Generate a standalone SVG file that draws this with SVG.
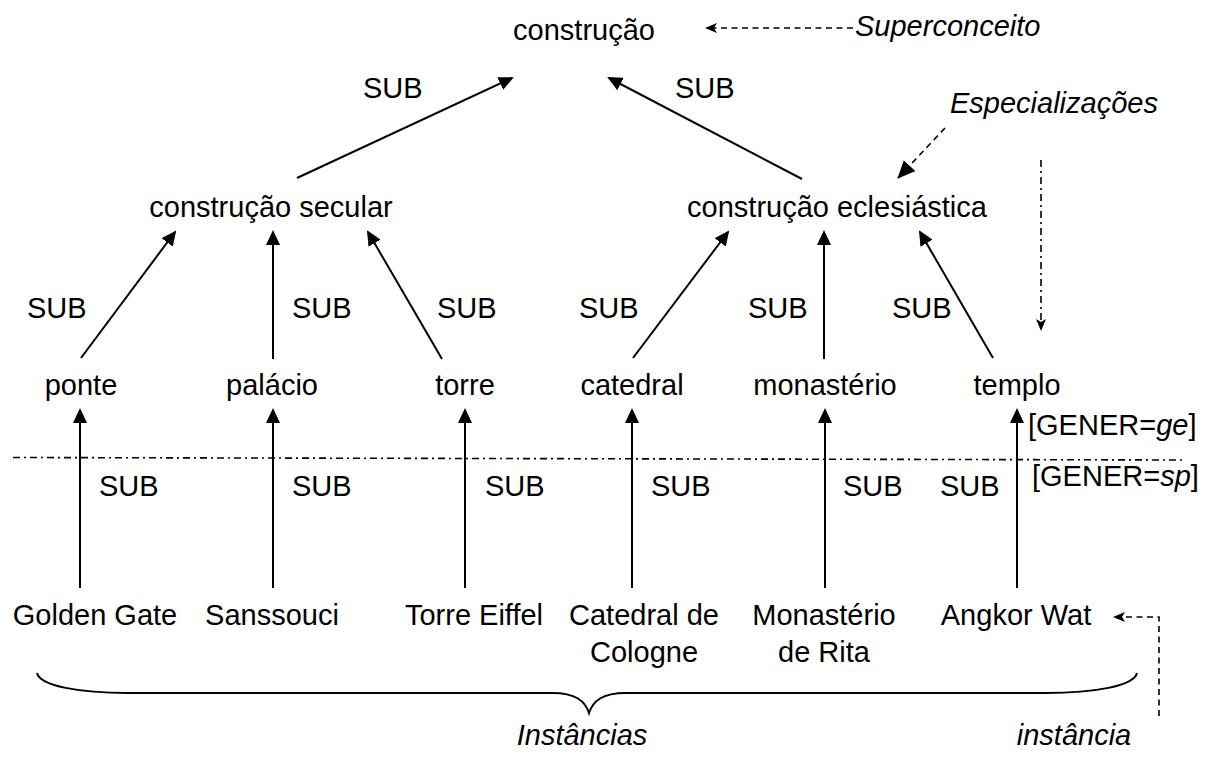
<svg xmlns="http://www.w3.org/2000/svg" width="1213" height="758" viewBox="0 0 1213 758">
  <defs>
    <style>
      text { font-family: "Liberation Sans", Arial, sans-serif; font-size: 29px; fill: #000; }
      .it { font-style: italic; }
      .c { text-anchor: middle; }
      .edge { stroke: #000; stroke-width: 2; fill: none; marker-end: url(#head); }
      .note { stroke: #000; stroke-width: 1.6; fill: none; stroke-dasharray: 6 4.5; }
      .dashdot { stroke: #000; stroke-width: 1.6; fill: none; stroke-dasharray: 7 4 2 4; }
    </style>
    <!-- solid triangular head for SUB relations -->
    <marker id="head" markerUnits="userSpaceOnUse" markerWidth="16" markerHeight="14" refX="13" refY="7" orient="auto">
      <path d="M0,0 L15,7 L0,14 z" fill="#000"/>
    </marker>
    <!-- notched head for annotation pointers -->
    <marker id="notch" markerUnits="userSpaceOnUse" markerWidth="12" markerHeight="12" refX="11" refY="6" orient="auto">
      <path d="M0,1 L12,6 L0,11 L3,6 z" fill="#000"/>
    </marker>
    <!-- larger head for the specialisation pointer -->
    <marker id="bighead" markerUnits="userSpaceOnUse" markerWidth="20" markerHeight="16" refX="17" refY="8" orient="auto">
      <path d="M0,0 L18,8 L0,16 z" fill="#000"/>
    </marker>
  </defs>

  <rect width="1213" height="758" fill="#fff"/>

  <!-- SUB relations -->
  <g id="connectors">
    <line class="edge" x1="297" y1="178" x2="512" y2="78"/>
    <line class="edge" x1="802" y1="179" x2="609" y2="78"/>

    <line class="edge" x1="81" y1="358" x2="175" y2="232"/>
    <line class="edge" x1="273" y1="359" x2="273" y2="232"/>
    <line class="edge" x1="442" y1="359" x2="368" y2="232"/>
    <line class="edge" x1="633" y1="358" x2="728" y2="232"/>
    <line class="edge" x1="824" y1="359" x2="824" y2="232"/>
    <line class="edge" x1="993" y1="358" x2="920" y2="232"/>

    <line class="edge" x1="80" y1="588" x2="80" y2="410"/>
    <line class="edge" x1="273" y1="588" x2="273" y2="410"/>
    <line class="edge" x1="465" y1="588" x2="465" y2="410"/>
    <line class="edge" x1="632" y1="588" x2="632" y2="410"/>
    <line class="edge" x1="825" y1="588" x2="825" y2="410"/>
    <line class="edge" x1="1017" y1="588" x2="1017" y2="410"/>

    <g id="edge-labels">
      <text x="363" y="98">SUB</text>
      <text x="675" y="98">SUB</text>
      <text x="27" y="318">SUB</text>
      <text x="292" y="318">SUB</text>
      <text x="437" y="318">SUB</text>
      <text x="579" y="318">SUB</text>
      <text x="748" y="318">SUB</text>
      <text x="892" y="318">SUB</text>
      <text x="99" y="496">SUB</text>
      <text x="292" y="496">SUB</text>
      <text x="485" y="496">SUB</text>
      <text x="651" y="496">SUB</text>
      <text x="843" y="496">SUB</text>
      <text x="940" y="496">SUB</text>
    </g>
  </g>

  <!-- concepts -->
  <g id="construcao"><text class="c" x="584" y="40">construção</text></g>
  <g id="construcao-secular"><text class="c" x="271" y="217">construção secular</text></g>
  <g id="construcao-eclesiastica"><text class="c" x="837" y="217">construção eclesiástica</text></g>
  <g id="ponte"><text class="c" x="81" y="395">ponte</text></g>
  <g id="palacio"><text class="c" x="272" y="395">palácio</text></g>
  <g id="torre"><text class="c" x="465" y="395">torre</text></g>
  <g id="catedral"><text class="c" x="632" y="395">catedral</text></g>
  <g id="monasterio"><text class="c" x="825" y="395">monastério</text></g>
  <g id="templo"><text class="c" x="1017" y="395">templo</text></g>

  <!-- instances -->
  <g id="golden-gate"><text class="c" x="95" y="625">Golden Gate</text></g>
  <g id="sanssouci"><text class="c" x="272" y="625">Sanssouci</text></g>
  <g id="torre-eiffel"><text class="c" x="474" y="625">Torre Eiffel</text></g>
  <g id="catedral-de-cologne">
    <text class="c" x="644" y="625">Catedral de</text>
    <text class="c" x="644" y="662">Cologne</text>
  </g>
  <g id="monasterio-de-rita">
    <text class="c" x="824" y="625">Monastério</text>
    <text class="c" x="824" y="662">de Rita</text>
  </g>
  <g id="angkor-wat"><text class="c" x="1016" y="625">Angkor Wat</text></g>

  <!-- general / specific boundary -->
  <g id="gener-boundary">
    <line class="dashdot" x1="13" y1="457.5" x2="1186" y2="460"/>
    <text x="1028" y="435">[GENER=<tspan class="it">ge</tspan>]</text>
    <text x="1032" y="486">[GENER=<tspan class="it">sp</tspan>]</text>
  </g>

  <!-- annotations -->
  <g id="superconceito">
    <line class="note" x1="853" y1="28" x2="706" y2="28" marker-end="url(#notch)"/>
    <text class="it" x="855" y="36">Superconceito</text>
  </g>
  <g id="especializacoes">
    <line class="note" x1="945" y1="128" x2="898" y2="178" marker-end="url(#bighead)"/>
    <line class="dashdot" x1="1041" y1="160" x2="1041" y2="330" marker-end="url(#notch)"/>
    <text class="it" x="950" y="113">Especializações</text>
  </g>
  <g id="instancias">
    <path d="M37,673 C40,686 80,693 128,693 L552,693 C576,693 585,701 589,713 C593,701 602,693 626,693 L1046,693 C1094,693 1134,686 1137,673" fill="none" stroke="#000" stroke-width="2"/>
    <text class="it c" x="582" y="745">Instâncias</text>
  </g>
  <g id="instancia">
    <polyline class="note" points="1159,716 1159,617 1114,617" marker-end="url(#notch)"/>
    <text class="it c" x="1074" y="745">instância</text>
  </g>
</svg>
